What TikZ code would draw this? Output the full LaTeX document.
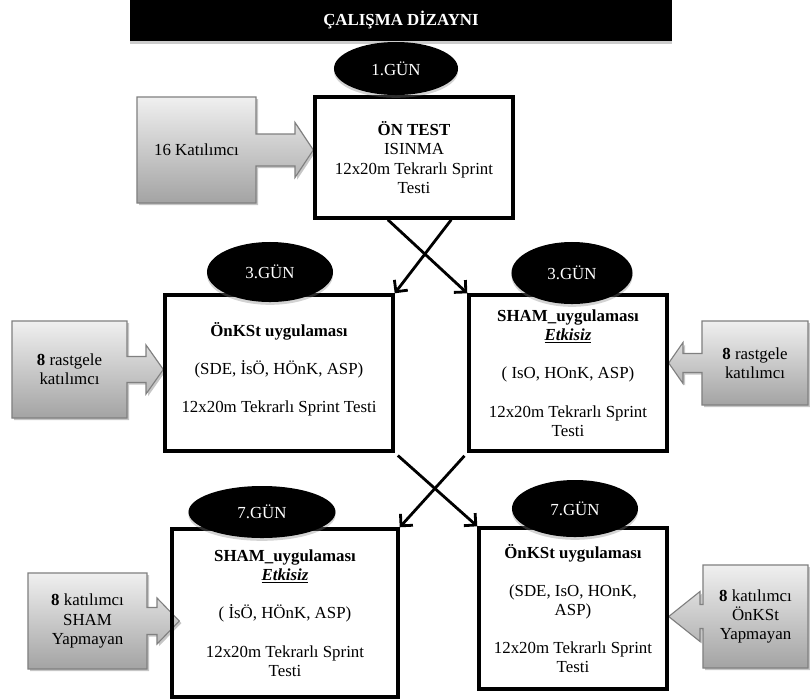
\documentclass[tikz,border=0pt]{standalone}
\usepackage{fontspec}
\setmainfont{Liberation Serif}
\usetikzlibrary{arrows.meta, positioning, calc, shapes.geometric, shadows, backgrounds}
\tikzset{
    design/.style={font=\fontsize{12pt}{13.6pt}\selectfont, x=0.025cm, y=-0.025cm},
    design box/.style={draw, line width=2.4pt, align=center, inner sep=2pt},
    design day/.style={ellipse, fill=black, text=white, inner sep=0pt,
        drop shadow={shadow xshift=0pt, shadow yshift=-2pt, opacity=.35}},
    design group/.style={align=center, inner sep=0pt, outer sep=0pt},
    design callout/.style={draw=black!50, line width=0.8pt, top color=black!6, bottom color=black!36,
        drop shadow={shadow xshift=1.5pt, shadow yshift=-1.5pt, opacity=.45}},
    design arrow/.style={-{Straight Barb[length=6pt,width=12pt]}, line width=2pt},
}
\begin{document}
\begin{tikzpicture}[design]
    \useasboundingbox (0,0) rectangle (810,699);

    % title
    \node[fill=black, text=white, font=\fontsize{12pt}{13.6pt}\selectfont\bfseries,
        minimum width=13.55cm, minimum height=1.025cm,
        drop shadow={shadow xshift=0pt, shadow yshift=-2pt, opacity=.4}] (title) at (401,20.5) {ÇALIŞMA DİZAYNI};

    % day 1
    \node[design box, minimum width=4.95cm, minimum height=3.025cm] (pretest) at (414,157.5)
        {\textbf{ÖN TEST}\\ISINMA\\12x20m Tekrarlı Sprint\\Testi};
    \node[design day, minimum width=3.1cm, minimum height=1.325cm] (day1) at (396,68.5) {1.GÜN};

    % day 3
    \node[design box, minimum width=5.7cm, minimum height=3.9cm] (onkst3) at (279,373)
        {\textbf{ÖnKSt uygulaması}\\[13.6pt](SDE, İsÖ, HÖnK, ASP)\\[13.6pt]12x20m Tekrarlı Sprint Testi\\[-6pt]};
    \node[design box, minimum width=4.95cm, minimum height=3.9cm] (sham3) at (568,373)
        {\textbf{SHAM\_uygulaması}\\\underline{\textbf{\textit{Etkisiz}}}\\[13.6pt]( IsO, HOnK, ASP)\\[13.6pt]12x20m Tekrarlı Sprint\\Testi};
    \node[design day, minimum width=3.15cm, minimum height=1.5cm] (day3a) at (270,272) {3.GÜN};
    \node[design day, minimum width=3.025cm, minimum height=1.55cm] (day3b) at (572,273) {3.GÜN};

    % day 7
    \node[design box, minimum width=5.65cm, minimum height=4.2cm] (sham7) at (285,613)
        {\textbf{SHAM\_uygulaması}\\\underline{\textbf{\textit{Etkisiz}}}\\[13.6pt]( İsÖ, HÖnK, ASP)\\[13.6pt]12x20m Tekrarlı Sprint\\Testi};
    \node[design box, minimum width=4.7cm, minimum height=4.025cm] (onkst7) at (573,608.5)
        {\textbf{ÖnKSt uygulaması}\\[13.6pt](SDE, IsO, HOnK,\\ASP)\\[13.6pt]12x20m Tekrarlı Sprint\\Testi};
    \node[design day, minimum width=3.675cm, minimum height=1.3cm] (day7a) at (262,512) {7.GÜN};
    \node[design day, minimum width=3.15cm, minimum height=1.425cm] (day7b) at (575,508.5) {7.GÜN};

    % participant groups
    \node[design group, minimum width=2.975cm, minimum height=2.65cm] (grp16) at (196.5,150) {16 Katılımcı};
    \node[design group, minimum width=2.875cm, minimum height=2.425cm] (grp8a) at (69.5,369.5) {\textbf{8} rastgele\\katılımcı};
    \node[design group, minimum width=2.65cm, minimum height=2.1cm] (grp8b) at (755,363) {\textbf{8} rastgele\\katılımcı};
    \node[design group, minimum width=2.975cm, minimum height=2.4cm] (grp8c) at (87.5,621) {\textbf{8} katılımcı\\SHAM\\Yapmayan};
    \node[design group, minimum width=2.625cm, minimum height=2.575cm] (grp8d) at (755.5,616.5) {\textbf{8} katılımcı\\ÖnKSt\\Yapmayan};

    \begin{scope}[on background layer]
        \draw[design callout] (grp16.north west) -- (grp16.north east) -- ($(grp16.east)+(0,-16)$)
            -- ($(grp16.east)+(39,-16)$) -- ($(grp16.east)+(39,-27.5)$) -- (grp16.east -| pretest.west)
            -- ($(grp16.east)+(39,27.5)$) -- ($(grp16.east)+(39,16)$) -- ($(grp16.east)+(0,16)$)
            -- (grp16.south east) -- (grp16.south west) -- cycle;
        \draw[design callout] (grp8a.north west) -- (grp8a.north east) -- ($(grp8a.east)+(0,-13)$)
            -- ($(grp8a.east)+(19,-13)$) -- ($(grp8a.east)+(19,-24.5)$) -- (grp8a.east -| onkst3.west)
            -- ($(grp8a.east)+(19,24.5)$) -- ($(grp8a.east)+(19,13)$) -- ($(grp8a.east)+(0,13)$)
            -- (grp8a.south east) -- (grp8a.south west) -- cycle;
        \draw[design callout] (grp8b.north east) -- (grp8b.north west) -- ($(grp8b.west)+(0,-9.5)$)
            -- ($(grp8b.west)+(-19,-9.5)$) -- ($(grp8b.west)+(-19,-20.5)$) -- (grp8b.west -| sham3.east)
            -- ($(grp8b.west)+(-19,20.5)$) -- ($(grp8b.west)+(-19,9.5)$) -- ($(grp8b.west)+(0,9.5)$)
            -- (grp8b.south west) -- (grp8b.south east) -- cycle;
        \draw[design callout] (grp8c.north west) -- (grp8c.north east) -- ($(grp8c.east)+(0,-13.5)$)
            -- ($(grp8c.east)+(10,-13.5)$) -- ($(grp8c.east)+(10,-23)$) -- ($(grp8c.east -| sham7.west)+(9,0)$)
            -- ($(grp8c.east)+(10,23)$) -- ($(grp8c.east)+(10,13.5)$) -- ($(grp8c.east)+(0,13.5)$)
            -- (grp8c.south east) -- (grp8c.south west) -- cycle;
        \draw[design callout] (grp8d.north east) -- (grp8d.north west) -- ($(grp8d.west)+(0,-12)$)
            -- ($(grp8d.west)+(-3,-12)$) -- ($(grp8d.west)+(-3,-25)$) -- (grp8d.west -| onkst7.east)
            -- ($(grp8d.west)+(-3,25)$) -- ($(grp8d.west)+(-3,12)$) -- ($(grp8d.west)+(0,12)$)
            -- (grp8d.south west) -- (grp8d.south east) -- cycle;
    \end{scope}

    % crossing arrows
    \draw[design arrow] ($(pretest.south west)!0.37!(pretest.south east)$) -- (sham3.north west);
    \draw[design arrow] ($(pretest.south west)!0.685!(pretest.south east)$) -- (onkst3.north east);
    \draw[design arrow, shorten <=3pt] (onkst3.south east) -- (onkst7.north west);
    \draw[design arrow, shorten <=3pt] (sham3.south west) -- (sham7.north east);
\end{tikzpicture}
\end{document}
